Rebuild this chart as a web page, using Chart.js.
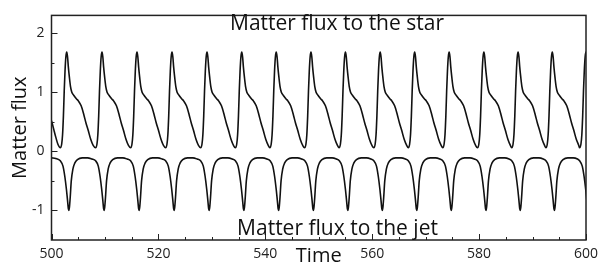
<!DOCTYPE html>
<html>
<head>
<meta charset="utf-8">
<script src="https://cdn.jsdelivr.net/npm/chart.js@4.4.0/dist/chart.umd.min.js"></script>
<style>
  body { margin: 0; background: #fff; }
  #flux { display: block; }
</style>
</head>
<body>
<canvas id="flux" width="605" height="266"></canvas>
<script>
// times of the star flux peaks and jet flux dips
var peakTimes = [502.85, 509.45, 516.0, 522.55, 529.1, 535.6, 542.05, 548.55, 555.0, 561.5, 567.95, 574.4, 580.9, 587.3, 593.7, 600.0]
var dipTimes = [503.25, 509.85, 516.4, 522.95, 529.5, 536.0, 542.5, 549.0, 555.45, 561.9, 568.35, 574.8, 581.3, 587.7, 594.1, 600.4]

// one cycle of each curve (offset from the peak / dip, value)
var starOffset = [-1.2, -0.95, -0.78, -0.62, -0.47, -0.32, -0.16, 0, 0.15, 0.3, 0.5, 0.7, 0.95, 1.3, 1.8, 2.2, 2.7, 3.2, 3.6, 4.0, 4.5, 4.95]
var starFlux = [0.06, 0.12, 0.28, 0.6, 1.02, 1.36, 1.6, 1.68, 1.6, 1.43, 1.25, 1.1, 1.0, 0.95, 0.89, 0.85, 0.77, 0.62, 0.48, 0.36, 0.2, 0.1]
var jetOffset = [-1.6, -1.1, -0.75, -0.45, -0.25, -0.1, 0, 0.1, 0.25, 0.45, 0.75, 1.1, 1.6, 2.5, 3.5, 4.3]
var jetFlux = [-0.16, -0.25, -0.43, -0.65, -0.83, -0.97, -1.0, -0.95, -0.78, -0.5, -0.3, -0.2, -0.14, -0.11, -0.11, -0.13]

// start of the window, before the first full cycle
var starLeadT = [500, 500.4, 500.8, 501.2]
var starLeadV = [0.52, 0.38, 0.24, 0.12]
var jetLeadT = [500, 500.8]
var jetLeadV = [-0.11, -0.12]

var xTicks = [500, 520, 540, 560, 580, 600]
var yTicks = [-1, 0, 1, 2]
var xMinor = [505, 510, 515, 525, 530, 535, 545, 550, 555, 565, 570, 575, 585, 590, 595]
var yMinor = [-0.5, 0.5, 1.5]

function buildSeries(leadT, leadV, centers, offs, vals) {
    var pts = []
    leadT.forEach((t, i) => pts.push({x: t, y: leadV[i]}))
    centers.forEach(c => {
        offs.forEach((o, i) => pts.push({x: +(c + o).toFixed(3), y: vals[i]}))
    })
    return pts
}

var frameTicks = {
    id: 'frameTicks',
    afterDatasetsDraw(chart) {
        var ctx = chart.ctx, a = chart.chartArea
        var x = chart.scales.x, y = chart.scales.y
        ctx.save()
        ctx.strokeStyle = '#222'
        ctx.lineWidth = 1
        xTicks.concat(xMinor).forEach(v => {
            var px = Math.round(x.getPixelForValue(v)) + 0.5
            var len = xTicks.includes(v) ? 6 : 3
            ctx.beginPath(); ctx.moveTo(px, a.bottom); ctx.lineTo(px, a.bottom - len); ctx.stroke()
        })
        yTicks.concat(yMinor).forEach(v => {
            var py = Math.round(y.getPixelForValue(v)) + 0.5
            var len = yTicks.includes(v) ? 6 : 3
            ctx.beginPath(); ctx.moveTo(a.left, py); ctx.lineTo(a.left + len, py); ctx.stroke()
        })
        ctx.lineWidth = 1.5
        ctx.strokeRect(a.left, a.top, a.right - a.left, a.bottom - a.top)

        // curve labels
        ctx.fillStyle = '#111'
        ctx.font = '21px "Open Sans"'
        ctx.textAlign = 'center'
        ctx.textBaseline = 'alphabetic'
        ctx.fillText('Matter flux to the star', 337, 29.5)
        ctx.fillText('Matter flux to the jet', 337.5, 234.5)
        ctx.restore()
    }
}

new Chart(document.getElementById('flux'), {
    type: 'line',
    data: {
        datasets: [
            {
                label: 'star',
                data: buildSeries(starLeadT, starLeadV, peakTimes, starOffset, starFlux),
                borderColor: '#111',
                borderWidth: 1.6,
                pointRadius: 0,
                cubicInterpolationMode: 'monotone'
            },
            {
                label: 'jet',
                data: buildSeries(jetLeadT, jetLeadV, dipTimes, jetOffset, jetFlux),
                borderColor: '#111',
                borderWidth: 1.6,
                pointRadius: 0,
                cubicInterpolationMode: 'monotone'
            }
        ]
    },
    options: {
        responsive: false,
        animation: false,
        devicePixelRatio: 1,
        layout: { padding: { top: 6, right: 19, left: 0, bottom: 0 } },
        plugins: { legend: { display: false }, tooltip: { enabled: false } },
        scales: {
            x: {
                type: 'linear',
                min: 500,
                max: 600,
                afterBuildTicks(s) { s.ticks = xTicks.map(v => ({value: v})) },
                afterFit(s) { s.height = 26 },
                grid: { display: false, drawTicks: false },
                border: { display: false },
                ticks: { color: '#222', padding: 6, maxRotation: 0, font: { size: 14, family: 'Open Sans' } },
                title: { display: true, text: 'Time', color: '#111', padding: { top: 0, bottom: 0 }, font: { size: 20, family: 'Open Sans', lineHeight: 1.0 } }
            },
            y: {
                min: -1.5,
                max: 2.3,
                afterBuildTicks(s) { s.ticks = yTicks.map(v => ({value: v})) },
                afterFit(s) { s.width = 51.5 },
                grid: { display: false, drawTicks: false },
                border: { display: false },
                ticks: { color: '#222', padding: 7, font: { size: 14, family: 'Open Sans' } },
                title: { display: true, text: 'Matter flux', color: '#111', padding: { top: 10, bottom: 0 }, font: { size: 20, family: 'Open Sans', lineHeight: 1.0 } }
            }
        }
    },
    plugins: [frameTicks]
})
</script>
</body>
</html>
